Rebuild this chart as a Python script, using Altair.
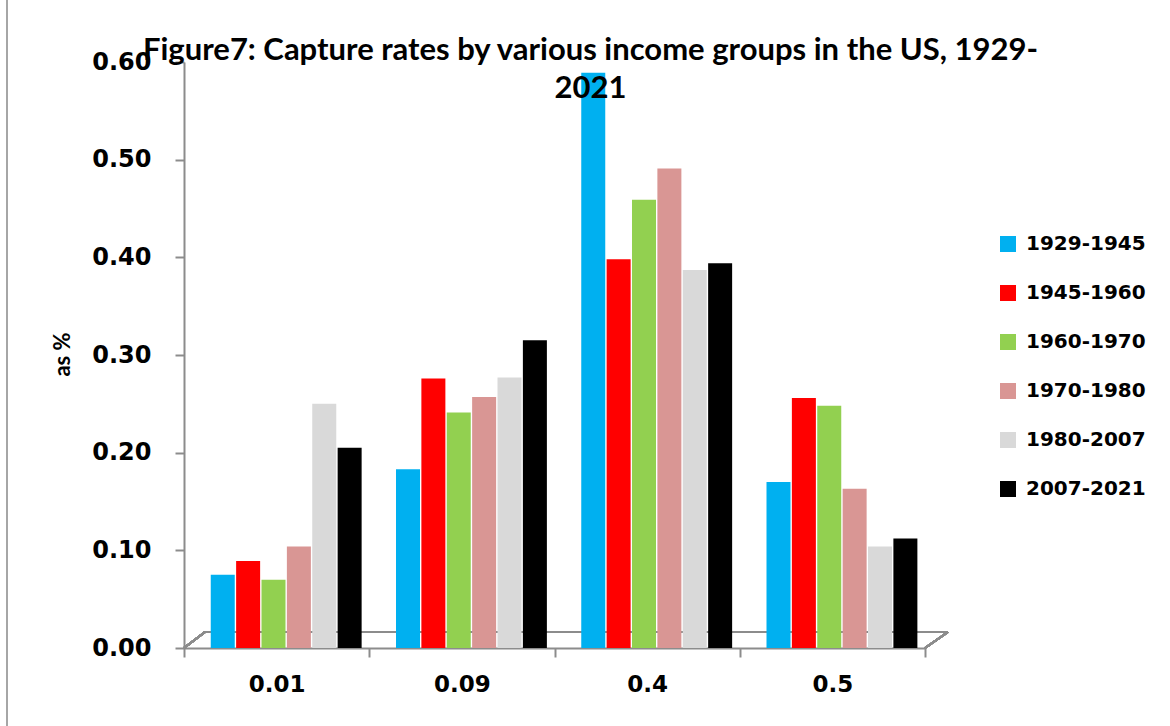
import altair as alt
import pandas as pd

groups = ["0.01", "0.09", "0.4", "0.5"]
periods = ["1929-1945", "1945-1960", "1960-1970", "1970-1980", "1980-2007", "2007-2021"]
colors = ["#00B0F0", "#FF0000", "#92D050", "#D99694", "#D9D9D9", "#000000"]

v_1929_1945 = [0.075, 0.183, 0.589, 0.170]
v_1945_1960 = [0.089, 0.276, 0.398, 0.256]
v_1960_1970 = [0.070, 0.241, 0.459, 0.248]
v_1970_1980 = [0.104, 0.257, 0.491, 0.163]
v_1980_2007 = [0.250, 0.277, 0.387, 0.104]
v_2007_2021 = [0.205, 0.315, 0.394, 0.112]

series = [v_1929_1945, v_1945_1960, v_1960_1970, v_1970_1980, v_1980_2007, v_2007_2021]
rows = []
for p, vals in zip(periods, series):
    for g, v in zip(groups, vals):
        rows.append({"group": g, "period": p, "value": v})
df = pd.DataFrame(rows)

W, H = 741, 586
axis_gray = "#8C8C8C"

bars = alt.Chart(df).mark_bar(size=24).encode(
    x=alt.X("group:N", sort=groups, title=None,
            scale=alt.Scale(paddingInner=0.0, paddingOuter=0.0),
            axis=alt.Axis(labelAngle=0, labelFont="DejaVu Sans", labelFontWeight="bold",
                          labelFontSize=23, labelColor="#000000", labelPadding=16, grid=False,
                          tickBand="extent", tickSize=9, tickColor=axis_gray, tickWidth=2,
                          domainColor=axis_gray, domainWidth=2)),
    xOffset=alt.XOffset("period:N", sort=periods,
                        scale=alt.Scale(paddingInner=0.0, paddingOuter=0.65, align=0.79)),
    y=alt.Y("value:Q", scale=alt.Scale(domain=[0, 0.6], nice=False),
            axis=alt.Axis(values=[0, 0.1, 0.2, 0.3, 0.4, 0.5, 0.6], format=".2f",
                          grid=False, title="as %", titleFont="Lato", titleFontSize=22,
                          titleFontWeight="bold", titleColor="#000000",
                          titleX=-110, titleY=292, titleAngle=-90,
                          labelFont="DejaVu Sans", labelFontWeight="bold", labelFontSize=24,
                          labelColor="#000000", labelPadding=24,
                          tickSize=9, tickColor=axis_gray, tickWidth=2,
                          domainColor=axis_gray, domainWidth=2)),
    color=alt.Color("period:N", sort=periods,
                    scale=alt.Scale(domain=periods, range=colors),
                    legend=alt.Legend(title=None, orient="none", legendX=814, legendY=172,
                                      symbolType="square", symbolSize=256,
                                      symbolStrokeWidth=0, labelFont="DejaVu Sans",
                                      labelFontWeight="bold", labelFontSize=20,
                                      labelColor="#000000", rowPadding=29, labelOffset=8)),
)

floor_back = alt.Chart(df).mark_rule(color=axis_gray, strokeWidth=2).encode(
    x=alt.value(21), x2=alt.value(764), y=alt.value(570), y2=alt.value(570))
floor_left = alt.Chart(df).mark_rule(color=axis_gray, strokeWidth=2).encode(
    x=alt.value(0), x2=alt.value(21), y=alt.value(586), y2=alt.value(570))
floor_right = alt.Chart(df).mark_rule(color=axis_gray, strokeWidth=2).encode(
    x=alt.value(741), x2=alt.value(764), y=alt.value(586), y2=alt.value(570))
border = alt.Chart(df).mark_rule(color="#A6A6A6", strokeWidth=2).encode(
    x=alt.value(-177), x2=alt.value(-177), y=alt.value(-62), y2=alt.value(664))

chart = alt.layer(floor_back, floor_left, floor_right, border, bars).properties(
    width=W, height=H,
    view=alt.ViewBackground(stroke="transparent", strokeWidth=0),
    autosize=alt.AutoSizeParams(type="none"),
    padding={"left": 184, "top": 62, "right": 245, "bottom": 78},
    title=alt.TitleParams(
        text=["Figure7: Capture rates by various income groups in the US, 1929-", "2021"],
        font="Lato", fontSize=31, fontWeight="bold", color="#000000",
        anchor="middle", baseline="alphabetic", offset=0, dx=36, dy=130, lineHeight=38),
).configure_view(strokeWidth=0, stroke="transparent").configure(background="#FFFFFF")

chart.save("out.html", embed_options={"renderer": "svg", "actions": False})
